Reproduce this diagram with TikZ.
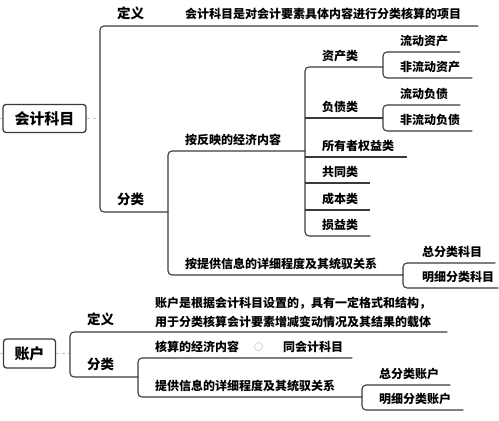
\documentclass[tikz,border=0pt]{standalone}
\usepackage{fontspec}
\newfontfamily\cjk{Noto Sans CJK SC}
\definecolor{linegray}{HTML}{3A3A3A}
\definecolor{fadegray}{HTML}{C4C4C4}
\begin{document}
\begin{tikzpicture}[x=1pt, y=-1pt, font=\cjk\bfseries,
  root node/.style={draw=linegray, line width=1.3pt, rounded corners=3pt, inner sep=0pt, font=\cjk\bfseries\fontsize{15}{15}\selectfont},
  main node/.style={anchor=south west, inner xsep=0pt, inner ysep=5pt, text depth=2pt, align=left, text width=#1, execute at begin node=\hspace*{17pt}, font=\cjk\bfseries\fontsize{13.5}{13.5}\selectfont},
  sub node/.style={main node=#1, inner ysep=4pt, font=\cjk\bfseries\fontsize{12}{12}\selectfont},
  link/.style={draw=linegray, line width=1.1pt, rounded corners=4pt},
  fade/.style={draw=fadegray, line width=0.7pt, dashed}]
  \useasboundingbox (0,0) rectangle (499,421);

  \node[root node, minimum width=83pt, minimum height=28pt] (km) at (44.5,118.5) {会计科目};
  \coordinate (kmleft) at (0,118.5);
  \node[main node=378pt] (kmdef) at (100,26) {定义};
  \node[anchor=base west, inner sep=0pt, font=\cjk\bfseries\fontsize{12}{12}\selectfont] (kmdeftext) at ([xshift=85pt]kmdef.base west) {会计科目是对会计要素具体内容进行分类核算的项目};
  \node[main node=68pt] (kmcls) at (100,212) {分类};
  \draw[fade] (kmleft) -- (km.west);
  \draw[fade] (km.east) -- (km.east -| kmdef.south west);
  \draw[link] (kmdef.south east) -- (kmdef.south west) -- (kmcls.south west) -- (kmcls.south east);

  \node[sub node=137pt] (kmc1) at (168,151) {按反映的经济内容};
  \node[sub node=235pt] (kmc2) at (168,275) {按提供信息的详细程度及其统驭关系};
  \draw[link] (kmc1.south east) -- (kmc1.south west) -- (kmc2.south west) -- (kmc2.south east);

  \node[sub node=78pt] (kmc11) at (305,67) {资产类};
  \node[sub node=78pt] (kmc12) at (305,118) {负债类};
  \node[sub node=102pt] (kmc13) at (305,157) {所有者权益类};
  \node[sub node=65pt] (kmc14) at (305,183) {共同类};
  \node[sub node=65pt] (kmc15) at (305,210) {成本类};
  \node[sub node=65pt] (kmc16) at (305,236) {损益类};
  \draw[link] (kmc11.south east) -- (kmc11.south west) -- (kmc16.south west) -- (kmc16.south east);
  \draw[link] (kmc12.south west) -- (kmc12.south east);
  \draw[link] (kmc13.south west) -- (kmc13.south east);
  \draw[link] (kmc14.south west) -- (kmc14.south east);
  \draw[link] (kmc15.south west) -- (kmc15.south east);

  \node[sub node=77pt] (kmc111) at (383,52) {流动资产};
  \node[sub node=89pt] (kmc112) at (383,78) {非流动资产};
  \draw[link] (kmc111.south east) -- (kmc111.south west) -- (kmc112.south west) -- (kmc112.south east);
  \node[sub node=77pt] (kmc121) at (383,105) {流动负债};
  \node[sub node=89pt] (kmc122) at (383,131) {非流动负债};
  \draw[link] (kmc121.south east) -- (kmc121.south west) -- (kmc122.south west) -- (kmc122.south east);

  \node[sub node=92pt, execute at begin node=\hspace*{2pt}] (kmc21) at (403,263) {总分类科目};
  \node[sub node=95pt, execute at begin node=\hspace*{2pt}] (kmc22) at (403,288) {明细分类科目};
  \draw[link] (kmc21.south east) -- (kmc21.south west) -- (kmc22.south west) -- (kmc22.south east);

  \node[root node, minimum width=52pt, minimum height=29pt] (zh) at (29.5,353.5) {账户};
  \coordinate (zhleft) at (0,353.5);
  \node[main node=377pt] (zhdef) at (70,332) {定义};
  \node[anchor=west, align=left, inner sep=0pt, font=\cjk\bfseries\fontsize{12}{19}\selectfont] (zhdeftext) at (155,312) {账户是根据会计科目设置的，具有一定格式和结构，\\用于分类核算会计要素增减变动情况及其结果的载体};
  \node[main node=68pt] (zhcls) at (70,377) {分类};
  \draw[fade] (zhleft) -- (zh.west);
  \draw[fade] (zh.east) -- (zh.east -| zhdef.south west);
  \draw[link] (zhdef.south east) -- (zhdef.south west) -- (zhcls.south west) -- (zhcls.south east);

  \node[sub node=214pt] (zhc1) at (138,358) {核算的经济内容\hspace{15pt}\raisebox{1pt}{\mdseries\color{gray}\fontsize{9}{9}\selectfont ○}\hspace{20pt}同会计科目};
  \node[sub node=224pt] (zhc2) at (138,397) {提供信息的详细程度及其统驭关系};
  \draw[link] (zhc1.south east) -- (zhc1.south west) -- (zhc2.south west) -- (zhc2.south east);

  \node[sub node=88pt] (zhc21) at (362,385) {总分类账户};
  \node[sub node=101pt] (zhc22) at (362,410) {明细分类账户};
  \draw[link] (zhc21.south east) -- (zhc21.south west) -- (zhc22.south west) -- (zhc22.south east);
\end{tikzpicture}
\end{document}
